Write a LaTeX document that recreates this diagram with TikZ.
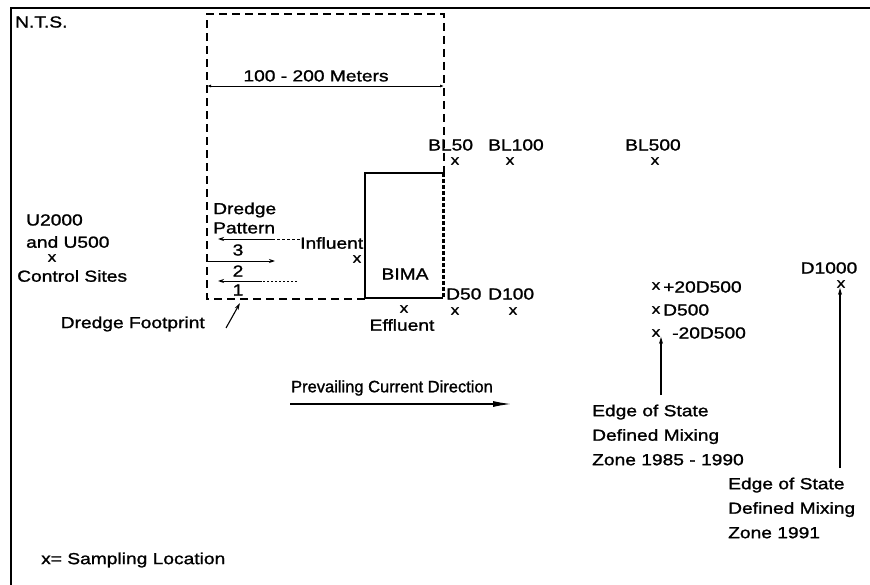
\documentclass[tikz,border=0pt]{standalone}
\usepackage{fontspec}
\setmainfont{Liberation Sans}[FakeStretch=1.2, FakeBold=1.3]
\newfontfamily\plainsans{Liberation Sans}[FakeBold=1.3]
\usetikzlibrary{arrows.meta, positioning}

\begin{document}
\begin{tikzpicture}[x=1pt, y=-1pt,
  lbl/.style={font=\fontsize{16}{18}\selectfont, inner sep=0pt, anchor=west},
  multi/.style={lbl, align=left, font=\fontsize{16}{24.5}\selectfont},
  smp/.style={font=\fontsize{14}{15}\selectfont, inner sep=0pt},
  frame/.style={line width=2.4pt},
  fence/.style={line width=1.3pt, dash pattern=on 8pt off 5pt},
  wall/.style={line width=2.8pt},
  arrowpat/.style={-{Stealth[length=6pt,width=4pt]}, line width=0.9pt},
  arrowlead/.style={-{Stealth[length=7pt,width=4pt]}, line width=1.1pt},
  arrowcur/.style={-{Latex[length=18pt,width=6pt]}, line width=1.2pt},
  dimline/.style={{Latex[length=4pt,width=3pt]}-{Latex[length=4pt,width=3pt]}, line width=0.9pt},
]
\useasboundingbox (0,0) rectangle (870,585);

%% ---- Frame and scale note ----
\draw[frame] (11,585) -- (11,8) -- (870,8);
\node[lbl] (nts) at (15,22) {N.T.S.};

%% ---- Dredge footprint and BIMA ----
\draw[fence] (365,299) -- (207,299) -- (207,14) -- (444,14) -- (444,173);
\draw[wall] (443,173) -- (365,173) -- (365,298) -- (443,298);
\draw[line width=3pt, dash pattern=on 4pt off 2pt] (443,173) -- (443,298);
\node[lbl, anchor=center] (bima) at (405,274) {BIMA};

\draw[dimline] (207,86) --
  node[lbl, anchor=south, above=4pt, pos=0.46] (width) {100 - 200 Meters} (444,86);

%% ---- Dredge pattern ----
\node[lbl] (dp1) at (213,210) {Dredge};
\node[lbl] (dp2) at (213,228) {Pattern};
\node[lbl] (infl) at (300,243) {Influent};
\draw[arrowpat] (272,239) -- (218,239);
\draw[line width=0.7pt, dash pattern=on 3pt off 2pt] (infl.west |- 0,239) -- (272,239);
\node[lbl, anchor=center] (p3) at (238,250) {3};
\draw[arrowpat] (208,261) -- (275,261);
\node[lbl, anchor=center] (p2) at (238,271) {2};
\draw[arrowpat] (262,281) -- (218,281);
\draw[line width=0.7pt, dash pattern=on 2pt off 2pt] (297,281) -- (262,281);
\node[lbl, anchor=center] (p1) at (238,290) {1};

\node[lbl, anchor=east] (dft) at (205,324) {Dredge Footprint};
\coordinate (fpt) at (240,303);
\draw[arrowlead] ([shift={(21,4)}]dft.east) -- (fpt);

%% ---- Sampling locations ----
\node[smp] (inflx) at (357,259) {x};
\node[smp] (effx) at (404,309) {x};
\node[lbl, anchor=center] (eff) at (402,325) {Effluent};

\node[lbl] (u2000) at (26,220) {U2000};
\node[lbl] (u500) at (26,242) {and U500};
\node[smp] (ux) at (52,258) {x};
\node[lbl] (ctrl) at (17,276) {Control Sites};

\node[lbl] (bl50) at (428,145) {BL50};
\node[smp] (bl50x) at (455,161) {x};
\node[lbl] (bl100) at (488,145) {BL100};
\node[smp] (bl100x) at (510,161) {x};
\node[lbl] (bl500) at (625,145) {BL500};
\node[smp] (bl500x) at (655,161) {x};

\node[lbl] (d50) at (446,294) {D50};
\node[smp] (d50x) at (455,311) {x};
\node[lbl] (d100) at (488,294) {D100};
\node[smp] (d100x) at (513,311) {x};

\node[smp] (p20x) at (656,286) {x};
\node[lbl] (p20) at (663,287) {+20D500};
\node[smp] (d500x) at (656,310) {x};
\node[lbl] (d500) at (663,310) {D500};
\node[smp] (m20x) at (656,333) {x};
\node[lbl] (m20) at (672,333) {-20D500};

\node[lbl, anchor=center] (d1000) at (829,268) {D1000};
\node[smp] (d1000x) at (841,284) {x};

%% ---- Mixing zone edges ----
\node[multi] (zone1) at (592,435) {Edge of State\\Defined Mixing\\Zone 1985 - 1990};
\coordinate (z1top) at (661,395);
\draw[arrowlead] (z1top) -- (m20x.south -| z1top);

\node[multi] (zone2) at (728,508) {Edge of State\\Defined Mixing\\Zone 1991};
\coordinate (z2top) at (840,468);
\draw[arrowlead] (z2top) -- (d1000x.south -| z2top);

%% ---- Current and legend ----
\node[lbl, anchor=center, font=\plainsans\fontsize{16.5}{18}\selectfont] (cur) at (392,388) {Prevailing Current Direction};
\draw[arrowcur] (290,404) -- (511,404);

\node[lbl] (legend) at (41,560) {x= Sampling Location};

\end{tikzpicture}
\end{document}
